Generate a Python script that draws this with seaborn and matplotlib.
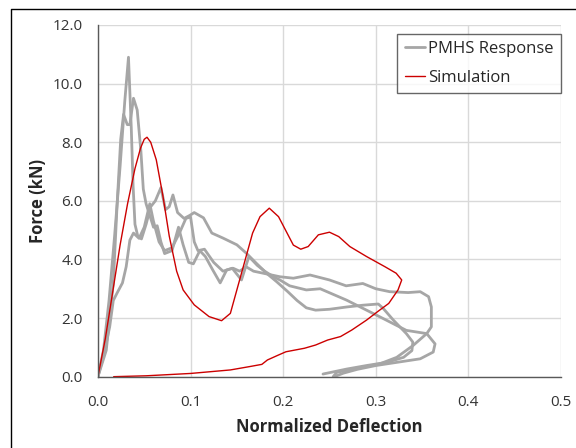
import pandas as pd
import matplotlib
matplotlib.use("Agg")
import matplotlib.pyplot as plt
import seaborn as sns
from matplotlib.lines import Line2D

# PMHS test curves (normalized deflection, force kN)
pmhs1_x = [0, 0.006, 0.012, 0.018, 0.024, 0.029, 0.033, 0.036, 0.038, 0.040, 0.043, 0.047,
           0.052, 0.057, 0.062, 0.068, 0.073, 0.077, 0.081, 0.086, 0.093, 0.099, 0.104, 0.114,
           0.123, 0.135, 0.150, 0.160, 0.171, 0.182, 0.193, 0.205, 0.215, 0.225, 0.235, 0.250,
           0.269, 0.2865, 0.3027, 0.308, 0.319, 0.333, 0.340, 0.339, 0.330, 0.312, 0.290,
           0.2686, 0.243]
pmhs1_y = [0, 0.9, 2.6, 4.8, 7.2, 9.4, 10.9, 8.5, 6.5, 5.2, 4.8, 4.7,
           5.2, 5.8, 6.0, 6.45, 5.7, 5.8, 6.2, 5.6, 5.4, 5.5, 5.6, 5.42,
           4.9, 4.73, 4.5, 4.22, 3.87, 3.53, 3.24, 2.9, 2.6, 2.35, 2.27, 2.3,
           2.38, 2.44, 2.48, 2.33, 1.93, 1.47, 1.18, 0.89, 0.66, 0.49, 0.38,
           0.26, 0.09]

pmhs2_x = [0, 0.009, 0.0166, 0.0206, 0.0246, 0.0277, 0.0317, 0.0345, 0.0384, 0.0424, 0.0464,
           0.049, 0.052, 0.056, 0.060, 0.064, 0.068, 0.072, 0.080, 0.087, 0.092, 0.098, 0.103,
           0.110, 0.116, 0.124, 0.132, 0.139, 0.146, 0.153, 0.160, 0.168, 0.1785, 0.1965,
           0.211, 0.229, 0.250, 0.268, 0.286, 0.300, 0.315, 0.335, 0.348, 0.357, 0.360, 0.360,
           0.355, 0.3405, 0.3226, 0.3045, 0.283, 0.258, 0.254]
pmhs2_y = [0, 0.9, 3.2, 5.8, 8.1, 8.95, 8.6, 8.6, 9.5, 9.1, 7.7,
           6.4, 5.9, 5.5, 5.1, 5.15, 4.6, 4.2, 4.3, 5.1, 4.5, 3.9, 3.85,
           4.3, 4.1, 3.64, 3.2, 3.64, 3.7, 3.6, 3.75, 3.6, 3.53, 3.41,
           3.36, 3.47, 3.3, 3.1, 3.18, 3.0, 2.9, 2.87, 2.9, 2.73, 2.38, 1.7,
           1.47, 1.07, 0.66, 0.44, 0.3, 0.15, 0.0]

pmhs3_x = [0, 0.0067, 0.0127, 0.0166, 0.0206, 0.0265, 0.0305, 0.0345, 0.0384, 0.0444, 0.050,
           0.056, 0.060, 0.066, 0.072, 0.080, 0.088, 0.095, 0.100, 0.104, 0.108, 0.115, 0.125,
           0.135, 0.145, 0.155, 0.163, 0.172, 0.180, 0.190, 0.1965, 0.207, 0.225, 0.240,
           0.2686, 0.3045, 0.333, 0.355, 0.364, 0.362, 0.348, 0.325, 0.300, 0.280, 0.265, 0.257]
pmhs3_y = [0, 0.8, 1.7, 2.6, 2.85, 3.2, 3.75, 4.66, 4.9, 4.72, 5.1,
           5.9, 5.3, 4.6, 4.3, 4.4, 4.9, 5.4, 5.45, 4.6, 4.3, 4.35, 3.9,
           3.6, 3.7, 3.3, 4.1, 3.8, 3.6, 3.4, 3.3, 3.1, 2.96, 3.0,
           2.61, 2.04, 1.58, 1.47, 1.12, 0.84, 0.61, 0.5, 0.38, 0.25, 0.12, 0.02]

# simulation curve
sim_x = [0, 0.008, 0.016, 0.024, 0.032, 0.040, 0.046, 0.050, 0.053, 0.057, 0.063, 0.070,
         0.077, 0.085, 0.092, 0.104, 0.120, 0.1335, 0.143, 0.155, 0.167, 0.175, 0.185,
         0.195, 0.211, 0.219, 0.227, 0.238, 0.250, 0.260, 0.272, 0.290, 0.310, 0.322, 0.328,
         0.324, 0.314, 0.302, 0.290, 0.274, 0.262, 0.248, 0.235, 0.223, 0.203, 0.195, 0.183,
         0.177, 0.163, 0.143, 0.100, 0.052, 0.017]
sim_y = [0, 1.3, 2.9, 4.5, 5.9, 7.1, 7.8, 8.1, 8.17, 8.0, 7.4, 6.2,
         4.8, 3.6, 2.96, 2.45, 2.05, 1.91, 2.16, 3.53, 4.9, 5.46, 5.75,
         5.46, 4.49, 4.35, 4.44, 4.84, 4.93, 4.78, 4.44, 4.1, 3.75, 3.53, 3.3,
         2.96, 2.5, 2.22, 1.93, 1.59, 1.37, 1.25, 1.08, 0.97, 0.85, 0.74, 0.57,
         0.42, 0.34, 0.23, 0.11, 0.03, 0.0]

gray = "#A6A6A6"
red = "#CC0000"

sns.set_style("white")
plt.rcParams['font.family'] = ['Open Sans', 'DejaVu Sans']

fig = plt.figure(figsize=(5.76, 4.48), dpi=100)
ax = fig.add_axes([0.170, 0.1592, 0.804, 0.785])

for i, (xs, ys) in enumerate([(pmhs1_x, pmhs1_y), (pmhs2_x, pmhs2_y), (pmhs3_x, pmhs3_y)]):
    d = pd.DataFrame({"x": xs, "y": ys})
    sns.lineplot(data=d, x="x", y="y", sort=False, estimator=None, color=gray,
                 linewidth=2.0, ax=ax, label="PMHS Response" if i == 0 else None)

d = pd.DataFrame({"x": sim_x, "y": sim_y})
sns.lineplot(data=d, x="x", y="y", sort=False, estimator=None, color=red,
             linewidth=1.0, ax=ax, label="Simulation")

for ln in ax.get_lines():
    ln.set_solid_joinstyle("round")

ax.set_xlim(0, 0.5)
ax.set_ylim(0, 12)
ax.set_xticks([0, 0.1, 0.2, 0.3, 0.4, 0.5])
ax.set_yticks([0, 2, 4, 6, 8, 10, 12])
ax.set_xticklabels([f"{v:.1f}" for v in ax.get_xticks()])
ax.set_yticklabels([f"{v:.1f}" for v in ax.get_yticks()])
ax.tick_params(length=0, labelsize=11, colors="#333333")
ax.tick_params(axis="x", pad=13)
ax.tick_params(axis="y", pad=11)
ax.grid(True, color="#D9D9D9", linewidth=1.0)
ax.set_axisbelow(True)
for s in ["top", "right"]:
    ax.spines[s].set_visible(False)
for s in ["left", "bottom"]:
    ax.spines[s].set_color("#595959")
    ax.spines[s].set_linewidth(1.0)

ax.set_xlabel("Normalized Deflection", fontsize=12, fontweight="bold", labelpad=6)
ax.set_ylabel("Force (kN)", fontsize=12, fontweight="bold", labelpad=4)

leg = ax.legend(loc="upper right", bbox_to_anchor=(1.0, 0.975), fontsize=12,
                frameon=True, fancybox=False, handlelength=1.2, handletextpad=0.2,
                borderpad=0.45, labelspacing=0.75, borderaxespad=0)
leg.get_frame().set_edgecolor("#404040")
leg.get_frame().set_linewidth(1.0)

# outer frame, left and top edges only
fig.add_artist(Line2D([11 / 576, 11 / 576, 1], [0, 1 - 9 / 448, 1 - 9 / 448],
                      transform=fig.transFigure, color="black", linewidth=1.0))

fig.savefig("out.png", dpi=100)
